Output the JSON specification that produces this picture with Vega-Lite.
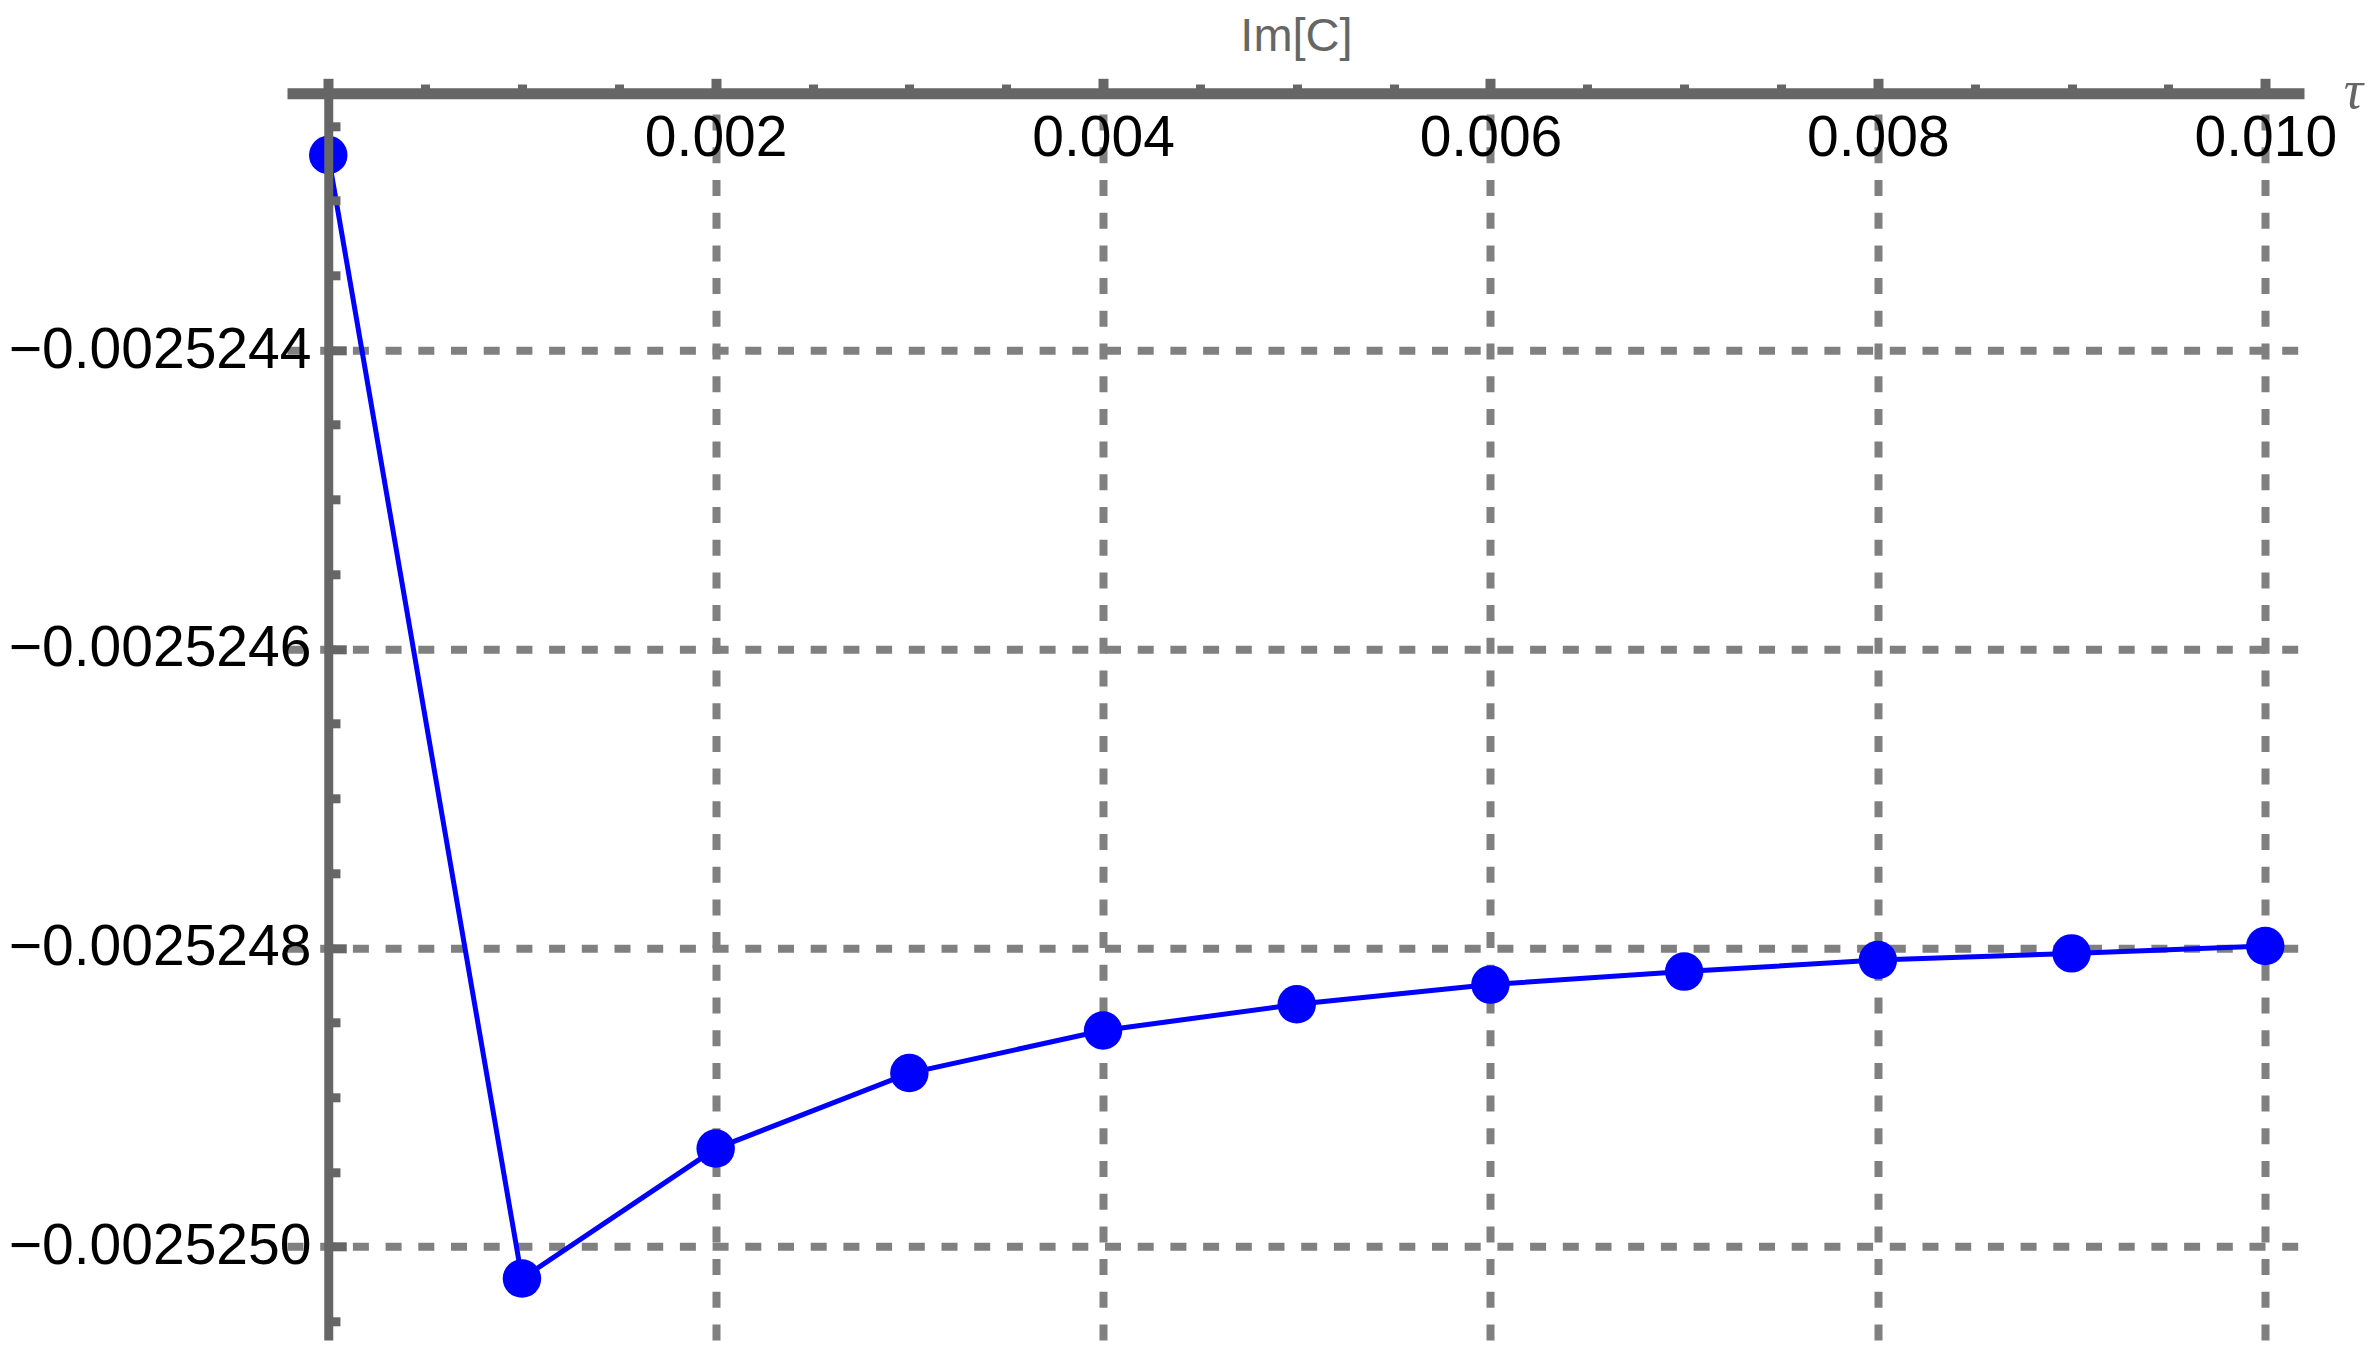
{
  "$schema": "https://vega.github.io/schema/vega-lite/v6.json",
  "autosize": {"type": "none"},
  "padding": {"left": 287, "top": 93.3, "right": 68, "bottom": 23},
  "width": 2017,
  "height": 1246.7,
  "background": "white",
  "config": {"view": {"stroke": null}},
  "data": {
    "values": [
      {"t": 0.000, "im": -0.0025242695},
      {"t": 0.001, "im": -0.0025250213},
      {"t": 0.002, "im": -0.0025249343},
      {"t": 0.003, "im": -0.0025248838},
      {"t": 0.004, "im": -0.0025248553},
      {"t": 0.005, "im": -0.0025248378},
      {"t": 0.006, "im": -0.0025248246},
      {"t": 0.007, "im": -0.0025248159},
      {"t": 0.008, "im": -0.0025248082},
      {"t": 0.009, "im": -0.0025248037},
      {"t": 0.010, "im": -0.0025247988}
    ]
  },
  "resolve": {"axis": {"x": "independent", "y": "independent"}},
  "layer": [
    {
      "mark": {"type": "line", "color": "#0000ff", "strokeWidth": 5},
      "encoding": {
        "x": {
          "field": "t", "type": "quantitative",
          "scale": {"domain": [-0.000213, 0.0102], "nice": false, "zero": false},
          "axis": {
            "orient": "top", "title": null, "domain": false, "ticks": false, "labels": false,
            "grid": true, "values": [0.002, 0.004, 0.006, 0.008, 0.010],
            "gridColor": "#808080", "gridWidth": 8, "gridDash": [16, 16.7], "gridOpacity": 1, "zindex": 0
          }
        },
        "y": {
          "field": "im", "type": "quantitative",
          "scale": {"domain": [-0.0025250624, -0.0025242282], "nice": false, "zero": false},
          "axis": {
            "orient": "left", "offset": -41.26, "title": null, "domain": false, "ticks": false, "labels": false,
            "grid": true, "values": [-0.002525, -0.0025248, -0.0025246, -0.0025244],
            "gridColor": "#808080", "gridWidth": 8, "gridDash": [16, 16.7], "gridOpacity": 1, "zindex": 0
          }
        }
      }
    },
    {
      "mark": {"type": "point", "filled": true, "color": "#0000ff", "size": 1480, "opacity": 1},
      "encoding": {
        "x": {
          "field": "t", "type": "quantitative",
          "axis": {
            "orient": "top", "grid": false, "zindex": 1,
            "values": [0, 0.002, 0.004, 0.006, 0.008, 0.010],
            "domain": true, "domainColor": "#666666", "domainWidth": 11,
            "ticks": true, "tickColor": "#666666", "tickWidth": 10, "tickSize": 15,
            "labels": true, "labelExpr": "datum.value == 0 ? '' : format(datum.value, '.3f')",
            "labelFont": "Liberation Sans", "labelFontSize": 57, "labelColor": "#000000", "labelLimit": 0,
            "labelBaseline": "alphabetic", "labelPadding": -76.7, "labelOverlap": false, "labelFlush": false, "labelBound": false,
            "title": "τ", "titleFont": "Liberation Serif", "titleFontStyle": "italic", "titleFontWeight": "normal",
            "titleFontSize": 54, "titleColor": "#666666", "titleX": 2066, "titleY": 14,
            "titleAlign": "center", "titleBaseline": "alphabetic", "titleAngle": 0
          }
        },
        "y": {
          "field": "im", "type": "quantitative",
          "axis": {
            "orient": "left", "offset": -41.26, "grid": false, "zindex": 1,
            "values": [-0.002525, -0.0025248, -0.0025246, -0.0025244],
            "domain": true, "domainColor": "#666666", "domainWidth": 9,
            "ticks": true, "tickColor": "#666666", "tickWidth": 9, "tickSize": -18,
            "labels": true, "format": ".7f",
            "labelFont": "Liberation Sans", "labelFontSize": 57, "labelColor": "#000000", "labelLimit": 0,
            "labelBaseline": "middle", "labelAlign": "right", "labelPadding": 35.3, "labelOverlap": false, "labelFlush": false, "labelBound": false,
            "title": "Im[C]", "titleFont": "Liberation Sans", "titleFontWeight": "normal",
            "titleFontSize": 47, "titleColor": "#666666", "titleX": 967.7, "titleY": -43.3,
            "titleAlign": "center", "titleBaseline": "alphabetic", "titleAngle": 0
          }
        }
      }
    },
    {
      "mark": {"type": "point", "filled": true, "opacity": 0, "size": 1},
      "encoding": {
        "x": {
          "field": "t", "type": "quantitative",
          "axis": {
            "orient": "top", "grid": false, "zindex": 1, "title": null, "domain": false, "labels": false,
            "values": [0.0005, 0.001, 0.0015, 0.0025, 0.003, 0.0035, 0.0045, 0.005, 0.0055, 0.0065, 0.007, 0.0075, 0.0085, 0.009, 0.0095],
            "ticks": true, "tickColor": "#666666", "tickWidth": 9, "tickSize": 9.3
          }
        },
        "y": {
          "field": "im", "type": "quantitative",
          "axis": {
            "orient": "left", "offset": -41.26, "grid": false, "zindex": 1, "title": null, "domain": false, "labels": false,
            "values": [-0.00252505, -0.00252495, -0.0025249, -0.00252485, -0.00252475, -0.0025247, -0.00252465, -0.00252455, -0.0025245, -0.00252445, -0.00252435, -0.0025243, -0.00252425],
            "ticks": true, "tickColor": "#666666", "tickWidth": 9, "tickSize": -11.7
          }
        }
      }
    }
  ]
}
